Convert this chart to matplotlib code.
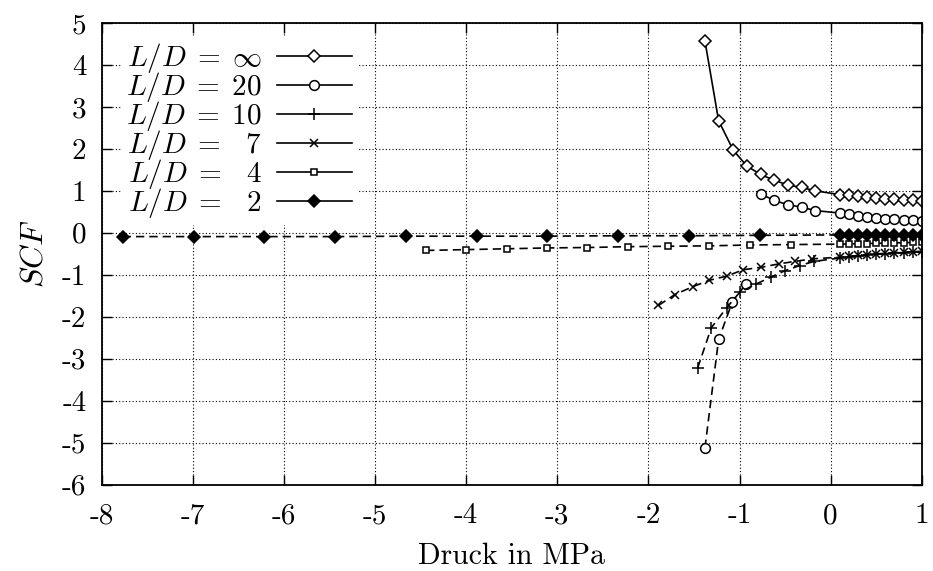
import matplotlib
matplotlib.use("Agg")
import matplotlib.pyplot as plt
from matplotlib.lines import Line2D

plt.rcParams['font.family'] = 'serif'
plt.rcParams['font.serif'] = ['cmr10']
plt.rcParams['mathtext.fontset'] = 'cm'
plt.rcParams['axes.unicode_minus'] = False
plt.rcParams['axes.formatter.use_mathtext'] = True

# pressure values (MPa) of the dense block on the right
p_dense = [0.1, 0.2, 0.3, 0.4, 0.5, 0.6, 0.7, 0.8, 0.9, 1.0]

# L/D = infinity (only positive branch)
p_inf = [-1.38, -1.23, -1.07, -0.92, -0.77, -0.62, -0.47, -0.32, -0.17] + p_dense
scf_inf = [4.57, 2.67, 1.97, 1.59, 1.39, 1.25, 1.14, 1.08, 1.0,
           0.91, 0.9, 0.87, 0.85, 0.83, 0.81, 0.80, 0.79, 0.78, 0.76]

# L/D = 20, positive and negative branch
p_20_pos = [-0.77, -0.62, -0.47, -0.32, -0.17] + p_dense
scf_20_pos = [0.93, 0.77, 0.67, 0.61, 0.53,
              0.47, 0.45, 0.41, 0.37, 0.35, 0.33, 0.32, 0.31, 0.30, 0.29]
p_20_neg = [-1.38, -1.23, -1.08, -0.93]
scf_20_neg = [-5.12, -2.54, -1.65, -1.22]

# L/D = 10
p_10 = [-1.46, -1.31, -1.14, -1.0, -0.82, -0.66, -0.5, -0.34, -0.18] + p_dense
scf_10 = [-3.22, -2.26, -1.78, -1.42, -1.22, -1.06, -0.9, -0.78, -0.68,
          -0.6, -0.57, -0.55, -0.53, -0.51, -0.5, -0.48, -0.47, -0.46, -0.45]

# L/D = 7
p_7 = [-1.89, -1.71, -1.51, -1.33, -1.14, -0.96, -0.76, -0.57, -0.39, -0.2] + p_dense
scf_7 = [-1.73, -1.47, -1.28, -1.13, -1.03, -0.88, -0.82, -0.74, -0.68, -0.62,
         -0.58, -0.56, -0.54, -0.52, -0.5, -0.49, -0.47, -0.46, -0.45, -0.44]

# L/D = 4
p_4 = [-4.44, -4.0, -3.55, -3.11, -2.67, -2.22, -1.78, -1.33, -0.89, -0.44] + p_dense
scf_4 = [-0.42, -0.40, -0.38, -0.36, -0.35, -0.33, -0.32, -0.31, -0.29, -0.28,
         -0.27, -0.265, -0.26, -0.255, -0.25, -0.245, -0.24, -0.235, -0.23, -0.23]

# L/D = 2
p_2 = [-7.77, -6.99, -6.22, -5.44, -4.66, -3.88, -3.11, -2.33, -1.55, -0.78] + p_dense
scf_2 = [-0.09, -0.09, -0.09, -0.09, -0.08, -0.08, -0.08, -0.07, -0.07, -0.06,
         -0.05, -0.05, -0.05, -0.05, -0.05, -0.05, -0.05, -0.05, -0.05, -0.05]

legend_labels = [r'$L/D\;=\;\infty$', r'$L/D\;=\;20$', r'$L/D\;=\;10$',
                 r'$L/D\;=\;\enspace 7$', r'$L/D\;=\;\enspace 4$', r'$L/D\;=\;\enspace 2$']
xticks = [-8, -7, -6, -5, -4, -3, -2, -1, 0, 1]
yticks = [5, 4, 3, 2, 1, 0, -1, -2, -3, -4, -5, -6]

fig = plt.figure(figsize=(9.33, 5.71), dpi=100)
ax = fig.add_axes([0.109, 0.151, 0.879, 0.809])

lw = 1.2
dash = (0, (5, 3))
mk = dict(color='black', lw=lw, markeredgewidth=1.1)

ax.plot(p_inf, scf_inf, ls='-', marker='D', ms=6, mfc='white', mec='black', **mk)
ax.plot(p_20_pos, scf_20_pos, ls='-', marker='o', ms=7, mfc='white', mec='black', **mk)
ax.plot(p_20_neg, scf_20_neg, ls=dash, marker='o', ms=7, mfc='white', mec='black', **mk)
ax.plot(p_10, scf_10, ls=dash, marker='+', ms=9, **mk)
ax.plot(p_7, scf_7, ls=dash, marker='x', ms=6, **mk)
ax.plot(p_4, scf_4, ls=dash, marker='s', ms=5, mfc='white', mec='black', **mk)
ax.plot(p_2, scf_2, ls=dash, marker='D', ms=6, mfc='black', mec='black', **mk)

# legend shows solid lines for every case, marker right of the text
handles = [
    Line2D([], [], ls='-', marker='D', ms=6, mfc='white', mec='black', **mk),
    Line2D([], [], ls='-', marker='o', ms=7, mfc='white', mec='black', **mk),
    Line2D([], [], ls='-', marker='+', ms=9, **mk),
    Line2D([], [], ls='-', marker='x', ms=6, **mk),
    Line2D([], [], ls='-', marker='s', ms=5, mfc='white', mec='black', **mk),
    Line2D([], [], ls='-', marker='D', ms=6, mfc='black', mec='black', **mk),
]
leg = ax.legend(handles, legend_labels, loc='upper left', bbox_to_anchor=(0.014, 0.989),
                markerfirst=False, fontsize=21, handlelength=2.6, handletextpad=0.5,
                labelspacing=-0.17, borderpad=0.15, borderaxespad=0.3, frameon=True,
                framealpha=1, fancybox=False, edgecolor='none', facecolor='white')
leg.set_zorder(5)

ax.set_xlim(-8, 1)
ax.set_ylim(-6, 5)
ax.set_xticks(xticks)
ax.set_xticklabels([str(v) for v in xticks])
ax.set_yticks(yticks)
ax.set_yticklabels([str(v) for v in yticks])
ax.tick_params(direction='in', length=7, width=1.0, top=True, right=True,
               labelsize=21)
ax.tick_params(axis='x', pad=13)
ax.tick_params(axis='y', pad=11)
ax.grid(True, color='black', ls=(0, (1, 2)), lw=0.8)
for s in ax.spines.values():
    s.set_linewidth(1.3)

ax.set_xlabel('Druck in MPa', fontsize=21.5, labelpad=10)
ax.set_ylabel(r'$SCF$', fontsize=23, labelpad=10)

fig.savefig('out.png', dpi=100)
